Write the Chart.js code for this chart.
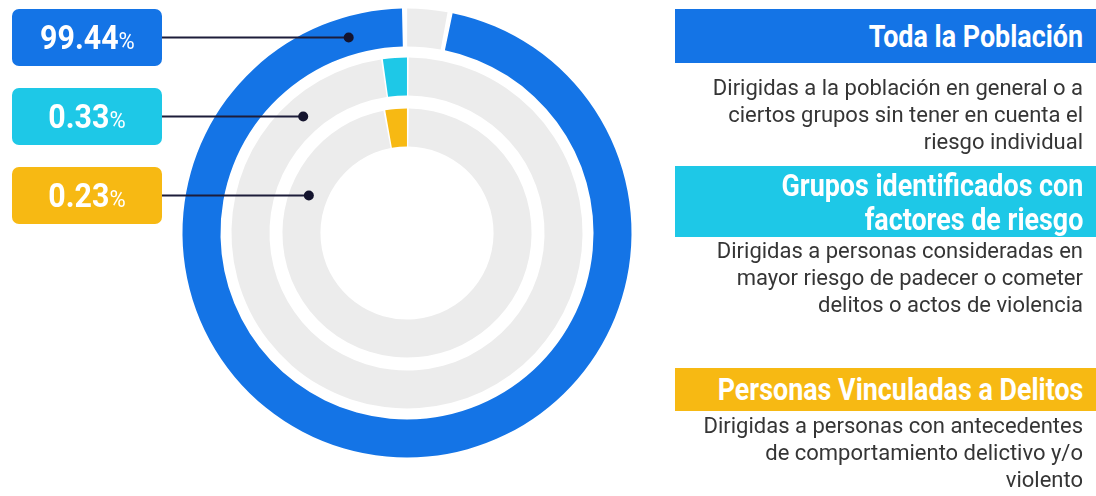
<!DOCTYPE html>
<html>
<head>
<meta charset="utf-8">
<script src="https://cdn.jsdelivr.net/npm/chart.js@4.4.1/dist/chart.umd.min.js"></script>
<style>
    html, body {
        margin: 0;
        padding: 0;
        background: #ffffff;
    }
    #wrap {
        position: relative;
        width: 1096px;
        height: 496px;
        overflow: hidden;
    }
    #rings {
        position: absolute;
        left: 0;
        top: 0;
    }
    .cond {
        font-family: Roboto, "Noto Sans", sans-serif;
        font-weight: bold;
    }
    .cond .inner {
        display: inline-block;
        white-space: nowrap;
        flex-shrink: 0;
    }
    .pct-box {
        position: absolute;
        left: 12px;
        width: 150px;
        height: 57px;
        border-radius: 7px;
        color: #ffffff;
        text-align: center;
        line-height: 57px;
    }
    .pct-box .inner {
        transform: scaleX(0.92);
        transform-origin: center center;
    }
    .pct-box .num {
        font-size: 33px;
    }
    .pct-box .sign {
        font-size: 24px;
        font-weight: normal;
    }
    .head {
        position: absolute;
        left: 675px;
        right: 0;
        display: flex;
        justify-content: flex-end;
        align-items: center;
        color: #ffffff;
        padding-right: 13px;
        font-size: 32px;
        box-sizing: border-box;
    }
    .head .inner {
        transform: scaleX(0.84);
        transform-origin: right center;
        text-align: right;
    }
    .desc {
        position: absolute;
        right: 13px;
        width: 440px;
        text-align: right;
        font-family: Roboto, "Noto Sans", sans-serif;
        font-size: 22px;
        line-height: 27px;
        color: #353535;
    }
</style>
</head>
<body>
<div id="wrap">
    <canvas id="rings" width="1096" height="496"></canvas>
    <div id="labels"></div>
    <div id="side"></div>
</div>
<script>
    // ring order: outer -> inner
    const ringNames = ['Toda la Población', 'Grupos identificados con<br>factores de riesgo', 'Personas Vinculadas a Delitos'];
    const ringPercents = ['99.44', '0.33', '0.23'];
    const ringDescriptions = [
        'Dirigidas a la población en general o a<br>ciertos grupos sin tener en cuenta el<br>riesgo individual',
        'Dirigidas a personas consideradas en<br>mayor riesgo de padecer o cometer<br>delitos o actos de violencia',
        'Dirigidas a personas con antecedentes<br>de comportamiento delictivo y/o<br>violento'
    ];
    const ringColors = ['#1474e6', '#1ec8e7', '#f7b913'];
    const restColor = '#ececec';

    // drawn shares of each ring (the infographic is not to scale)
    const outerRing = [2.9, 97.1];   // gray gap, blue
    const middleRing = [97.8, 2.2];  // gray, cyan
    const innerRing = [97.2, 2.8];   // gray, yellow

    // layout of the left boxes and right panel
    const boxTop = [9, 88, 167];
    const headTop = [9, 166, 368];
    const headHeight = [54, 71, 43];
    const descTop = [74, 237, 412];

    const labelsDiv = document.getElementById('labels');
    const sideDiv = document.getElementById('side');

    ringPercents.forEach((p, i) => {
        const box = document.createElement('div');
        box.className = 'pct-box cond';
        box.style.top = boxTop[i] + 'px';
        box.style.background = ringColors[i];
        box.innerHTML = `<span class="inner"><span class="num">${p}</span><span class="sign">%</span></span>`;
        labelsDiv.appendChild(box);

        const head = document.createElement('div');
        head.className = 'head cond';
        head.style.top = headTop[i] + 'px';
        head.style.height = headHeight[i] + 'px';
        head.style.background = ringColors[i];
        head.style.lineHeight = (i === 1 ? 34 : headHeight[i]) + 'px';
        head.innerHTML = `<span class="inner">${ringNames[i]}</span>`;
        sideDiv.appendChild(head);

        const desc = document.createElement('div');
        desc.className = 'desc';
        desc.style.top = descTop[i] + 'px';
        desc.innerHTML = ringDescriptions[i];
        sideDiv.appendChild(desc);
    });

    const ringDatasets = [0, 2, 4];

    const connectors = {
        id: 'connectors',
        afterDatasetsDraw(chart) {
            const ctx = chart.ctx;
            ringDatasets.forEach((dsIndex, i) => {
                const meta = chart.getDatasetMeta(dsIndex);
                const arc = meta.data[0];
                const r = (meta.controller.outerRadius + meta.controller.innerRadius) / 2;
                const y = boxTop[i] + 28.5;
                const dy = arc.y - y;
                const x = arc.x - Math.sqrt(r * r - dy * dy);
                ctx.save();
                ctx.strokeStyle = '#1d1d3a';
                ctx.lineWidth = 2;
                ctx.beginPath();
                ctx.moveTo(162, y);
                ctx.lineTo(x, y);
                ctx.stroke();
                ctx.fillStyle = '#14142e';
                ctx.beginPath();
                ctx.arc(x, y, 5, 0, Math.PI * 2);
                ctx.fill();
                ctx.restore();
            });
        }
    };

    new Chart(document.getElementById('rings'), {
        type: 'doughnut',
        data: {
            datasets: [
                {data: outerRing, backgroundColor: [restColor, ringColors[0]], weight: 38, spacing: 3},
                {data: [1], backgroundColor: ['rgba(0,0,0,0)'], weight: 10},
                {data: middleRing, backgroundColor: [restColor, ringColors[1]], weight: 38, spacing: 1},
                {data: [1], backgroundColor: ['rgba(0,0,0,0)'], weight: 13},
                {data: innerRing, backgroundColor: [restColor, ringColors[2]], weight: 38, spacing: 1},
            ]
        },
        options: {
            responsive: false,
            animation: false,
            radius: 223,
            cutout: '38.6%',
            borderWidth: 0,
            layout: {
                padding: {left: 0, right: 282, top: 0, bottom: 30}
            },
            plugins: {
                legend: {display: false},
                tooltip: {enabled: false}
            }
        },
        plugins: [connectors]
    });
</script>
</body>
</html>
